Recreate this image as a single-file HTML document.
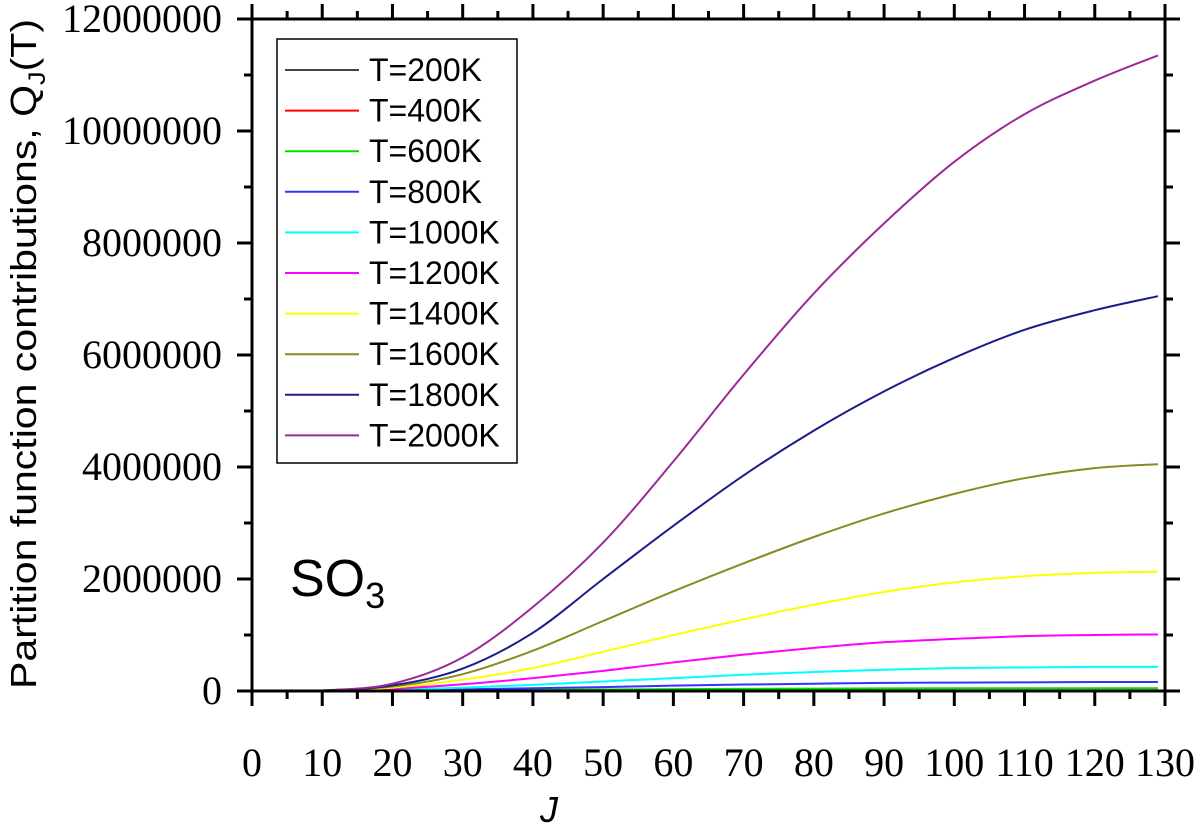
<!DOCTYPE html>
<html><head><meta charset="utf-8"><style>body{margin:0;background:#fff}svg{display:block}</style></head>
<body>
<svg id="chart" width="1200" height="824" viewBox="0 0 1200 824" xmlns="http://www.w3.org/2000/svg">
<g id="curves"></g>
<g id="axes"></g>
<g id="legend"></g>
<text transform="translate(36,354) rotate(-90)" text-anchor="middle" font-family="Liberation Sans, sans-serif" font-size="36" textLength="670" lengthAdjust="spacingAndGlyphs">Partition function contributions, Q<tspan font-size="24" dy="9">J</tspan><tspan dy="-9">(T)</tspan></text>
<text x="549" y="822" text-anchor="middle" font-family="Liberation Sans, sans-serif" font-size="36" font-style="italic">J</text>
<text x="290" y="596" font-family="Liberation Sans, sans-serif" font-size="52">SO<tspan font-size="36" dy="12">3</tspan></text>
</svg>
<script>
const J = [0,10,20,30,40,50,60,70,80,90,100,110,120,129];
const temps = ['T=200K','T=400K','T=600K','T=800K','T=1000K','T=1200K','T=1400K','T=1600K','T=1800K','T=2000K'];
const colors = ['#444444','#ff0000','#00e000','#3333ff','#00ffff','#ff00ff','#ffff00','#8a8a20','#1c1c8c','#9a2a9a'];
const s200  = [0,0,0.0005,0.001,0.0015,0.002,0.002,0.002,0.002,0.002,0.002,0.002,0.002,0.002];
const s400  = [0,0,0.002,0.004,0.006,0.008,0.009,0.01,0.01,0.011,0.011,0.011,0.011,0.011];
const s600  = [0,0.0005,0.005,0.012,0.02,0.027,0.033,0.039,0.043,0.046,0.048,0.05,0.05,0.05];
const s800  = [0,0.001,0.01,0.03,0.05,0.07,0.095,0.115,0.13,0.145,0.15,0.155,0.16,0.16];
const s1000 = [0,0.002,0.02,0.06,0.11,0.17,0.23,0.29,0.34,0.38,0.41,0.42,0.43,0.43];
const s1200 = [0,0.003,0.04,0.12,0.23,0.36,0.51,0.65,0.77,0.87,0.93,0.98,1.0,1.01];
const s1400 = [0,0.005,0.06,0.2,0.41,0.7,1.0,1.28,1.54,1.77,1.94,2.05,2.11,2.13];
const s1600 = [0,0.01,0.08,0.3,0.72,1.25,1.78,2.28,2.75,3.17,3.52,3.8,3.98,4.05];
const s1800 = [0,0.01,0.1,0.4,1.04,2.0,2.95,3.85,4.65,5.35,5.95,6.45,6.8,7.05];
const s2000 = [0,0.01,0.13,0.6,1.5,2.65,4.1,5.65,7.1,8.35,9.45,10.3,10.9,11.35];
const xTicks = [0,10,20,30,40,50,60,70,80,90,100,110,120,130];
const yTicks = [0,2000000,4000000,6000000,8000000,10000000,12000000];

const NS='http://www.w3.org/2000/svg';
const X0=252,X1=1165,Y0=691,Y1=19;
const xs=v=>X0+(v/130)*(X1-X0);
const ys=v=>Y0-(v/12000000)*(Y0-Y1);
function mk(tag,attrs,parent){const e=document.createElementNS(NS,tag);for(const k in attrs)e.setAttribute(k,attrs[k]);parent.appendChild(e);return e;}
const curves=document.getElementById('curves'),axes=document.getElementById('axes'),legend=document.getElementById('legend');
const series=[s200,s400,s600,s800,s1000,s1200,s1400,s1600,s1800,s2000];
series.forEach((s,i)=>{
  const pts=J.map((j,k)=>[xs(j),ys(s[k]*1e6)]);
  let d='M'+pts[0][0]+','+pts[0][1];
  for(let k=0;k<pts.length-1;k++){
    const p0=pts[Math.max(0,k-1)],p1=pts[k],p2=pts[k+1],p3=pts[Math.min(pts.length-1,k+2)];
    const c1=[p1[0]+(p2[0]-p0[0])/6,p1[1]+(p2[1]-p0[1])/6],c2=[p2[0]-(p3[0]-p1[0])/6,p2[1]-(p3[1]-p1[1])/6];
    d+=` C${c1[0]},${Math.min(c1[1],Y0)} ${c2[0]},${Math.min(c2[1],Y0)} ${p2[0]},${p2[1]}`;
  }
  const p=mk('path',{d:d,fill:'none',stroke:colors[i],'stroke-width':2},curves);
  
  
});
const fr=mk('path',{d:`M237,${Y0}H1180 M237,${Y1}H1180 M${X0},${Y0+15}V4 M${X1},${Y0+15}V4`,stroke:'#000','stroke-width':3,fill:'none'},axes);


for(let v=0;v<=130;v+=5){
  const x=xs(v),L=v%10===0?15:8;
  mk('line',{x1:x,x2:x,y1:Y0,y2:Y0+L,stroke:'#000','stroke-width':3},axes);
  mk('line',{x1:x,x2:x,y1:Y1,y2:Y1-L,stroke:'#000','stroke-width':3},axes);
}
xTicks.forEach(v=>{
  const t=mk('text',{x:xs(v),y:776,'text-anchor':'middle','font-family':'Liberation Serif, serif','font-size':40},axes);
  t.textContent=v;
  
  
});
for(let v=0;v<=12000000;v+=1000000){
  const y=ys(v),L=v%2000000===0?15:8;
  mk('line',{x1:X0,x2:X0-L,y1:y,y2:y,stroke:'#000','stroke-width':3},axes);
  mk('line',{x1:X1,x2:X1+L,y1:y,y2:y,stroke:'#000','stroke-width':3},axes);
}
yTicks.forEach(v=>{
  const s=String(v);
  const t=mk('text',{x:222,y:ys(v)+13,'text-anchor':'end','font-family':'Liberation Serif, serif','font-size':40},axes);
  if(s.length>1){t.setAttribute('textLength',s.length*20);t.setAttribute('lengthAdjust','spacingAndGlyphs');}
  t.textContent=s;
  
  
});
const box=mk('rect',{x:277,y:39,width:240,height:424,fill:'#fff',stroke:'#000','stroke-width':1.5},legend);


temps.forEach((n,i)=>{
  const y=70+i*40.6;
  const g=mk('g',{},legend);
  
  
  mk('line',{x1:285,x2:359,y1:y,y2:y,stroke:colors[i],'stroke-width':2},g);
  const t=mk('text',{x:369,y:y+11,'font-family':'Liberation Sans, sans-serif','font-size':32},g);
  t.textContent=n;
});
</script>
</body></html>
